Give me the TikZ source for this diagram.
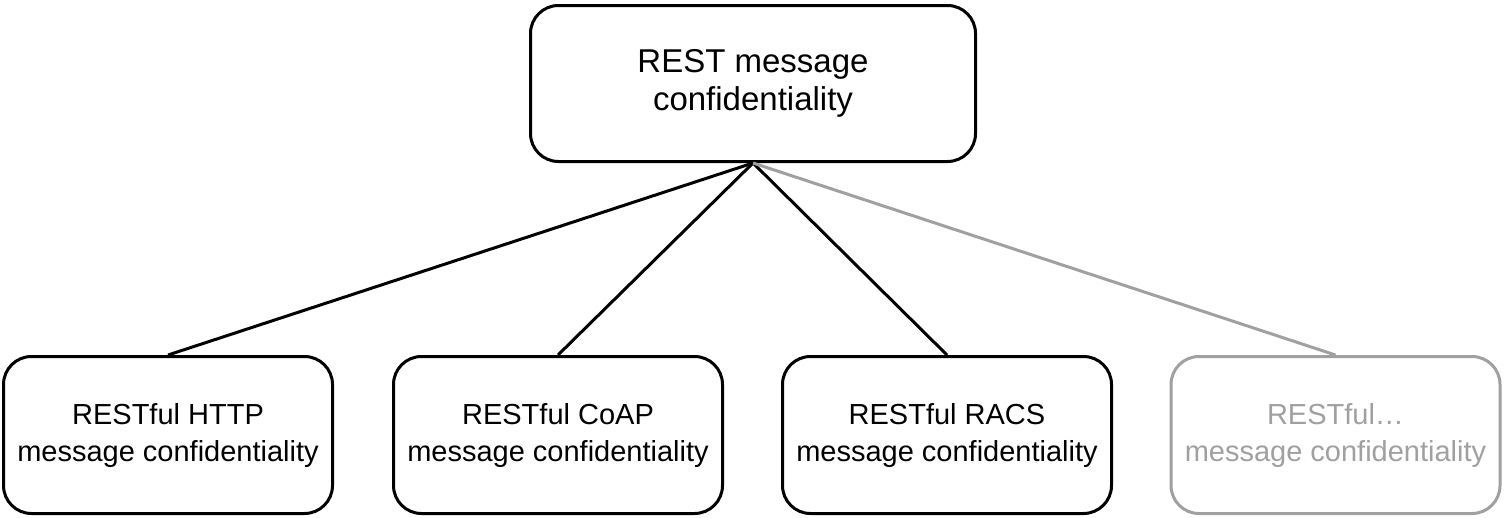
\documentclass[tikz,border=0pt]{standalone}
\usepackage{fontspec}
\setmainfont{Liberation Sans}
\definecolor{faint}{HTML}{A0A0A0}
\begin{document}
\begin{tikzpicture}[x=1pt,y=-1pt,
  box/.style={draw, line width=3pt, rounded corners=28pt, align=center,
    minimum width=329pt, minimum height=157pt, inner sep=0pt,
    font=\fontsize{29}{37}\selectfont},
  link/.style={line width=3pt},
  faded/.style={draw=faint, text=faint}]
\useasboundingbox (0,0) rectangle (1504,517);
\node[box, minimum width=445pt, minimum height=156pt, font=\fontsize{33}{38}\selectfont] (top) at (753,83.5) {REST message\\confidentiality};
\node[box] (http) at (168,435) {RESTful HTTP\\message confidentiality};
\node[box] (coap) at (558,435) {RESTful CoAP\\message confidentiality};
\node[box] (racs) at (947,435) {RESTful RACS\\message confidentiality};
\node[box, faded] (more) at (1335.5,435) {RESTful\ldots\\message confidentiality};
\draw[link] (top.south) -- (http.north);
\draw[link] (top.south) -- (coap.north);
\draw[link] (top.south) -- (racs.north);
\draw[link, faint] (top.south) -- (more.north);
\end{tikzpicture}
\end{document}
